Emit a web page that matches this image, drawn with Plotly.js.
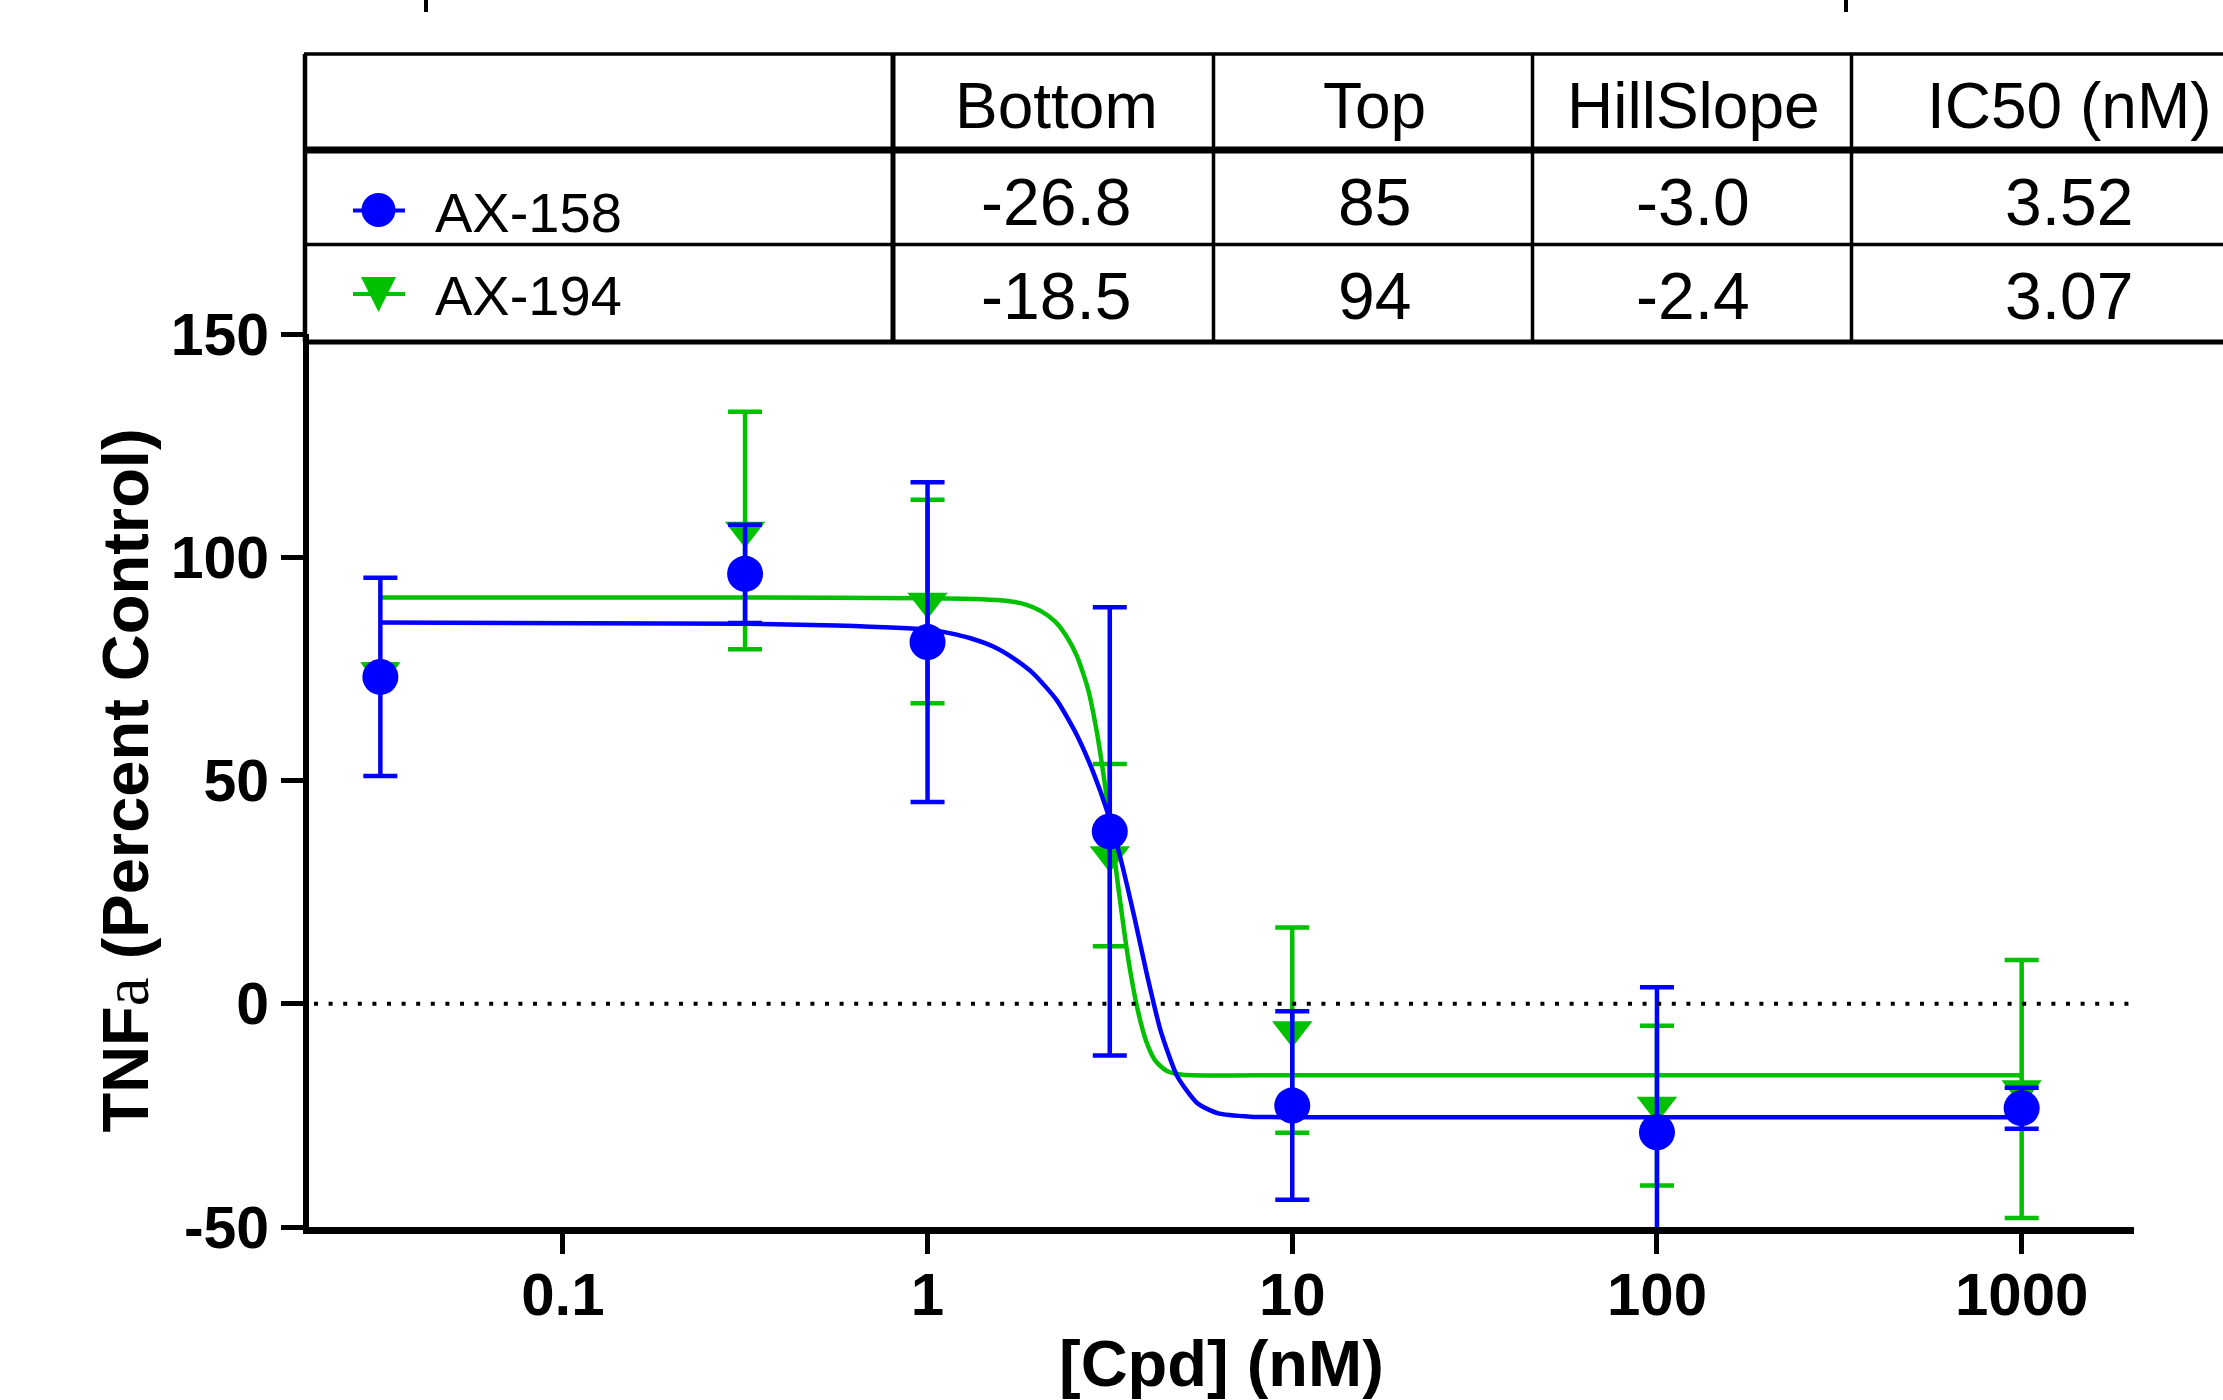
<!DOCTYPE html>
<html>
<head>
<meta charset="utf-8">
<script src="https://cdn.plot.ly/plotly-3.0.1.min.js"></script>
<style>html,body{margin:0;padding:0;background:#fff;}#chart{width:2223px;height:1400px;}</style>
</head>
<body>
<div id="chart"></div>
<script>
// ---- data ----
var conc = [0.0316, 0.316, 1, 3.16, 10, 100, 1000];
var ax158Mean = [73.2, 96.3, 81.0, 38.6, -22.8, -28.8, -23.4];
var ax158Err  = [22.2, 11.0, 35.8, 50.2, 21.1, 32.5, 4.6];
var ax194Mean = [74.5, 106.0, 90.1, 33.3, -5.9, -22.8, -19.1];
var ax194Err  = [1.5, 26.6, 22.8, 20.4, 23.0, 17.9, 28.9];

// fitted curves
var fit158X = [0.0316, 0.316, 0.562, 1, 1.148, 1.318, 1.514, 1.718, 1.954, 2.265, 2.57, 2.858, 3.112, 3.381, 3.681, 4.009, 4.355, 4.842, 5.495, 6.237, 7.691, 10, 100, 1000];
var fit158Y = [85.4, 85.1, 84.7, 83.8, 83.0, 81.8, 80.0, 77.4, 73.9, 67.9, 60.1, 51.5, 43.0, 32.6, 19.8, 6.0, -6.0, -16.3, -22.3, -24.5, -25.3, -25.4, -25.4, -25.4];
var fit194X = [0.0316, 0.316, 1, 1.413, 1.660, 1.862, 2.042, 2.239, 2.399, 2.570, 2.754, 2.917, 3.090, 3.311, 3.532, 3.758, 3.981, 4.217, 4.519, 5.012, 10, 100, 1000];
var fit194Y = [91.0, 91.0, 90.8, 90.6, 90.2, 89.4, 88.0, 85.6, 82.4, 77.8, 70.5, 60.5, 47.0, 28.0, 11.2, -0.9, -8.5, -12.8, -15.0, -15.9, -16.0, -16.0, -16.0];

var xTickVals = [0.1, 1, 10, 100, 1000];
var xTickText = ["0.1", "1", "10", "100", "1000"];
var yTickVals = [-50, 0, 50, 100, 150];
var yTickText = ["-50", "0", "50", "100", "150"];

var seriesNames = ["AX-158", "AX-194"];
var tableHeaders = ["Bottom", "Top", "HillSlope", "IC50 (nM)"];
var ax158Params = ["-26.8", "85", "-3.0", "3.52"];
var ax194Params = ["-18.5", "94", "-2.4", "3.07"];
var xTitle = "[Cpd] (nM)";
var yTitle = 'TNF<span style="font-family:\'Liberation Serif\';font-weight:normal">a</span> (Percent Control)';

// ---- styles ----
var BLUE = "#0000ff", GREEN = "#00c000";
var FONT = "Liberation Sans, Arial, Helvetica, sans-serif";

var W = 2223, H = 1400;
var mL = 309, mR = 89, mT = 334, mB = 173;
var pw = W - mL - mR, ph = H - mT - mB;
function PX(x) { return (x - mL) / pw; }
function PY(y) { return (H - mB - y) / ph; }

var traces = [
  {x: fit194X, y: fit194Y, mode: "lines", line: {color: GREEN, width: 4.5, shape: "spline", smoothing: 0.6}, hoverinfo: "skip"},
  {x: conc, y: ax194Mean, mode: "markers", name: seriesNames[1],
   marker: {symbol: "triangle-down", size: 35, color: GREEN},
   error_y: {type: "data", array: ax194Err, visible: true, color: GREEN, thickness: 4.5, width: 17}},
  {x: fit158X, y: fit158Y, mode: "lines", line: {color: BLUE, width: 4.5, shape: "spline", smoothing: 0.6}, hoverinfo: "skip"},
  {x: conc, y: ax158Mean, mode: "markers", name: seriesNames[0],
   marker: {symbol: "circle", size: 36, color: BLUE},
   error_y: {type: "data", array: ax158Err, visible: true, color: BLUE, thickness: 4.5, width: 17}}
];

// ---- table (shapes + annotations) ----
var shapes = [];
var annotations = [];
function hline(y, w) { shapes.push({type: "line", xref: "paper", yref: "paper", x0: PX(304), x1: PX(W + 20), y0: PY(y), y1: PY(y), line: {color: "black", width: w}}); }
function vline(x, w) { shapes.push({type: "line", xref: "paper", yref: "paper", x0: PX(x), x1: PX(x), y0: PY(54), y1: PY(342), line: {color: "black", width: w}}); }
hline(54, 3.5);
hline(150, 7);
hline(244.5, 3.5);
hline(342, 5);
vline(305, 4.5);
vline(893, 5);
vline(1213.5, 3.5);
vline(1532.5, 3.5);
vline(1851.5, 3.5);

var colCenters = [1056, 1374, 1693, 2069];
tableHeaders.forEach(function (t, i) {
  annotations.push({xref: "paper", yref: "paper", x: PX(colCenters[i]), y: PY(106), text: t, showarrow: false, xanchor: "center", yanchor: "middle", font: {family: FONT, size: 64, color: "black"}});
});
ax158Params.forEach(function (t, i) {
  annotations.push({xref: "paper", yref: "paper", x: PX(colCenters[i]), y: PY(202), text: t, showarrow: false, xanchor: "center", yanchor: "middle", font: {family: FONT, size: 66, color: "black"}});
});
ax194Params.forEach(function (t, i) {
  annotations.push({xref: "paper", yref: "paper", x: PX(colCenters[i]), y: PY(296), text: t, showarrow: false, xanchor: "center", yanchor: "middle", font: {family: FONT, size: 66, color: "black"}});
});
annotations.push({xref: "paper", yref: "paper", x: PX(433), y: PY(212), text: seriesNames[0], showarrow: false, xanchor: "left", yanchor: "middle", font: {family: FONT, size: 56, color: "black"}});
annotations.push({xref: "paper", yref: "paper", x: PX(433), y: PY(296), text: seriesNames[1], showarrow: false, xanchor: "left", yanchor: "middle", font: {family: FONT, size: 56, color: "black"}});

// x-axis title
annotations.push({xref: "paper", yref: "paper", x: 0.5, y: PY(1326), text: xTitle, showarrow: false, xanchor: "center", yanchor: "top", borderpad: 0,
  font: {family: FONT, size: 65, weight: "bold", color: "black"}});

// legend glyphs inside the table
shapes.push({type: "line", xref: "paper", yref: "paper", x0: PX(353), x1: PX(405), y0: PY(210.5), y1: PY(210.5), line: {color: BLUE, width: 4}});
shapes.push({type: "circle", xref: "paper", yref: "paper", x0: PX(361.5), x1: PX(395.5), y0: PY(193), y1: PY(227), fillcolor: BLUE, line: {width: 0}});
shapes.push({type: "line", xref: "paper", yref: "paper", x0: PX(353), x1: PX(405), y0: PY(294), y1: PY(294), line: {color: GREEN, width: 4}});
shapes.push({type: "path", xref: "paper", yref: "paper",
  path: "M" + PX(361) + "," + PY(277) + " L" + PX(396) + "," + PY(277) + " L" + PX(378.5) + "," + PY(312) + " Z",
  fillcolor: GREEN, line: {width: 0}});

// dotted zero line
shapes.push({type: "line", xref: "paper", yref: "y", x0: PX(314), x1: PX(2132), y0: 0, y1: 0, line: {color: "black", width: 4, dash: "4px,10.6px"}});

// cropped remnants at the very top
shapes.push({type: "line", xref: "paper", yref: "paper", x0: PX(426), x1: PX(426), y0: PY(-2), y1: PY(12), line: {color: "black", width: 4}});
shapes.push({type: "line", xref: "paper", yref: "paper", x0: PX(1846), x1: PX(1846), y0: PY(-2), y1: PY(12), line: {color: "black", width: 4}});

var layout = {
  width: W, height: H,
  paper_bgcolor: "white", plot_bgcolor: "white",
  showlegend: false,
  margin: {l: mL, r: mR, t: mT, b: mB, pad: 0},
  font: {family: FONT, color: "black"},
  xaxis: {
    type: "log", range: [-1.696, 3.308],
    showgrid: false, zeroline: false,
    showline: true, linecolor: "black", linewidth: 7,
    ticks: "outside", ticklen: 20, tickwidth: 5, tickcolor: "black",
    tickvals: xTickVals, ticktext: xTickText,
    tickfont: {family: FONT, size: 60, weight: "bold", color: "black"},
    ticklabelstandoff: -11
  },
  yaxis: {
    range: [-50, 150],
    showgrid: false, zeroline: false,
    showline: true, linecolor: "black", linewidth: 6,
    ticks: "outside", ticklen: 22, tickwidth: 5, tickcolor: "black",
    tickvals: yTickVals, ticktext: yTickText,
    tickfont: {family: FONT, size: 59, weight: "bold", color: "black"},
    title: {text: yTitle, font: {family: FONT, size: 65, weight: "bold", color: "black"}, standoff: 3}
  },
  shapes: shapes,
  annotations: annotations
};

Plotly.newPlot("chart", traces, layout, {staticPlot: true, displayModeBar: false});
</script>
</body>
</html>
